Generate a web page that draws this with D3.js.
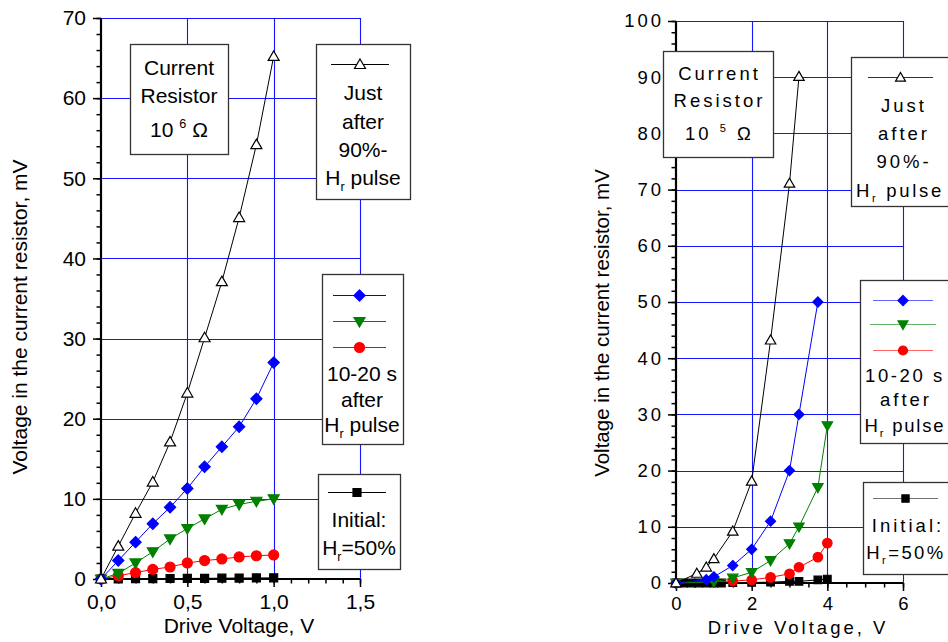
<!DOCTYPE html>
<html><head><meta charset="utf-8">
<script src="https://cdn.jsdelivr.net/npm/d3@7"></script>
<style>
body{margin:0;background:#fff;}
svg{display:block;font-family:"Liberation Sans", Arial, sans-serif;}
</style></head><body>
<svg id="c" width="948" height="642"></svg>
<script>
// ---------- Left panel (current resistor 10^6 Ω) ----------
const leftVoltage    = [0, 0.1, 0.2, 0.3, 0.4, 0.5, 0.6, 0.7, 0.8, 0.9, 1.0];
const leftJustAfter  = [0, 4.1, 8.2, 12.1, 17.1, 23.2, 30.1, 37.1, 45.1, 54.2, 65.2];
const leftBlue       = [0, 2.3, 4.6, 6.9, 8.95, 11.3, 14.0, 16.5, 19.0, 22.5, 27.0];
const leftGreen      = [0, 0.7, 2.0, 3.4, 5.0, 6.3, 7.5, 8.7, 9.3, 9.7, 10.0];
const leftRed        = [0, 0.4, 0.8, 1.2, 1.5, 2.0, 2.3, 2.5, 2.75, 2.9, 3.0];
const leftInitial    = [0, 0.02, 0.04, 0.05, 0.06, 0.07, 0.08, 0.1, 0.12, 0.13, 0.15];
const leftXTicks     = [0, 0.5, 1.0, 1.5];
const leftYTicks     = [0, 10, 20, 30, 40, 50, 60, 70];

// ---------- Right panel (current resistor 10^5 Ω) ----------
const rightJustX  = [0, 0.55, 0.8, 1.0, 1.5, 2.0, 2.5, 3.0, 3.25];
const rightJustY  = [0, 1.7, 2.8, 4.3, 9.2, 18.1, 43.2, 71.1, 90.1];
const rightBlueX  = [0, 0.8, 1.0, 1.5, 2.0, 2.5, 3.0, 3.25, 3.75];
const rightBlueY  = [0, 0.6, 1.1, 3.1, 6.0, 11.0, 20.0, 30.0, 50.0];
const rightGreenX = [0, 1.0, 1.5, 2.0, 2.5, 3.0, 3.25, 3.75, 4.0];
const rightGreenY = [0, 0.2, 0.9, 1.9, 4.0, 7.0, 10.0, 17.0, 28.0];
const rightRedX   = [0, 1.5, 2.0, 2.5, 3.0, 3.25, 3.75, 4.0];
const rightRedY   = [0, 0.35, 0.55, 1.0, 1.65, 2.8, 4.6, 7.1];
const rightInitX  = [0, 0.2, 0.4, 0.6, 0.8, 1.0, 1.2, 1.5, 2.0, 2.5, 3.0, 3.25, 3.75, 4.0];
const rightInitY  = [0, 0, 0, 0, 0, 0, 0, 0.05, 0.1, 0.15, 0.3, 0.3, 0.55, 0.7];
const rightXTicks = [0, 2, 4, 6];
const rightYTicks = [0, 10, 20, 30, 40, 50, 60, 70, 80, 90, 100];

const svg = d3.select("#c");
const GRID = "#1414ff";

const markerPath = {
  triUp:   s => `M0,${-5.5*s}L${5.5*s},${4*s}L${-5.5*s},${4*s}Z`,
  triDown: s => `M0,${5.5*s}L${5.5*s},${-4*s}L${-5.5*s},${-4*s}Z`,
  diamond: s => `M0,${-5.6*s}L${5.6*s},0L0,${5.6*s}L${-5.6*s},0Z`,
  square:  s => `M${-4*s},${-4*s}h${8*s}v${8*s}h${-8*s}Z`,
  circle:  s => `M${5*s},0A${5*s},${5*s} 0 1,1 ${-5*s},0A${5*s},${5*s} 0 1,1 ${5*s},0Z`
};

function drawPanel(cfg) {
  const g = svg.append("g");
  const {x, y} = cfg;
  const [xa, xb] = x.range(), [yb, ya] = y.range();
  g.selectAll(null).data(cfg.yTicks.filter(d => d > 0)).join("line")
    .attr("x1", xa).attr("x2", xb)
    .attr("y1", d => Math.round(y(d)) + 0.5).attr("y2", d => Math.round(y(d)) + 0.5)
    .attr("stroke", GRID).attr("stroke-width", 1.1);
  g.selectAll(null).data(cfg.xTicks.filter(d => d > 0)).join("line")
    .attr("y1", ya).attr("y2", yb)
    .attr("x1", d => Math.round(x(d)) + 0.5).attr("x2", d => Math.round(x(d)) + 0.5)
    .attr("stroke", GRID).attr("stroke-width", 1.1);
  return g;
}

function drawAxes(g, cfg) {
  const {x, y} = cfg;
  const [xa, xb] = x.range(), [yb, ya] = y.range();
  const txtStyle = sel => sel.selectAll("text")
      .attr("font-size", cfg.fs).attr("fill", "#000")
      .style("letter-spacing", cfg.ls + "px")
      .attr("font-family", "Liberation Sans, Arial, sans-serif");
  const xm = g.append("g").attr("transform", `translate(0,${yb})`)
    .call(d3.axisBottom(x).tickValues(cfg.xMinor).tickSize(4.5).tickFormat(""));
  const ym = g.append("g").attr("transform", `translate(${xa},0)`)
    .call(d3.axisLeft(y).tickValues(cfg.yMinor).tickSize(4.5).tickFormat(""));
  const xM = g.append("g").attr("transform", `translate(0,${yb})`)
    .call(d3.axisBottom(x).tickValues(cfg.xTicks).tickSize(8).tickPadding(cfg.xPad).tickFormat(cfg.xFmt));
  const yM = g.append("g").attr("transform", `translate(${xa},0)`)
    .call(d3.axisLeft(y).tickValues(cfg.yTicks).tickSize(8).tickPadding(cfg.yPad).tickFormat(d3.format("d")));
  [xm, ym, xM, yM].forEach(s => {
    s.select(".domain").remove();
    s.selectAll("line").attr("stroke", "#000").attr("stroke-width", 1.5);
    s.attr("font-size", null).attr("font-family", null);
  });
  txtStyle(xM); txtStyle(yM);
  if (cfg.ls) xM.selectAll("text").attr("dx", cfg.ls / 2);
  g.append("line").attr("x1", xa).attr("x2", xa).attr("y1", ya).attr("y2", yb + 1)
    .attr("stroke", "#000").attr("stroke-width", 2.2);
  g.append("line").attr("x1", xa - 1).attr("x2", xb).attr("y1", yb).attr("y2", yb)
    .attr("stroke", "#000").attr("stroke-width", 2.2);
}

function drawSeries(g, x, y, xs, ys, color, shape, fill, stroke, s) {
  const pts = xs.map((v, i) => [x(v), y(ys[i])]);
  g.append("path").attr("d", d3.line()(pts)).attr("fill", "none")
    .attr("stroke", color).attr("stroke-width", 1);
  g.selectAll(null).data(pts).join("path")
    .attr("transform", d => `translate(${d[0]},${d[1]})`)
    .attr("d", markerPath[shape](s))
    .attr("fill", fill).attr("stroke", stroke).attr("stroke-width", 1.2);
}

function box(g, x0, y0, x1, y1) {
  g.append("rect").attr("x", x0 + 0.5).attr("y", y0 + 0.5)
    .attr("width", x1 - x0).attr("height", y1 - y0)
    .attr("fill", "#fff").attr("stroke", "#333").attr("stroke-width", 1.3);
}

function rich(g, cx, base, parts, fs, ls) {
  const t = g.append("text").attr("x", cx).attr("y", base)
    .attr("text-anchor", "middle").attr("font-size", fs).attr("fill", "#000")
    .style("letter-spacing", ls + "px");
  let shift = 0;
  parts.forEach(([txt, kind]) => {
    const target = kind === "sup" ? -fs * 0.42 : kind === "sub" ? fs * 0.28 : 0;
    t.append("tspan").attr("dy", target - shift)
      .attr("font-size", kind ? fs * 0.6 : fs).text(txt);
    shift = target;
  });
  return t;
}

function legendLine(g, xa, xb, yy, color, shape, fill, stroke, s, op) {
  g.append("line").attr("x1", xa).attr("x2", xb).attr("y1", yy + 0.5).attr("y2", yy + 0.5)
    .attr("stroke", color).attr("stroke-width", 1).attr("opacity", op);
  g.append("path").attr("transform", `translate(${(xa + xb) / 2},${yy + 0.5})`)
    .attr("d", markerPath[shape](s)).attr("fill", fill).attr("stroke", stroke).attr("stroke-width", 1.2);
}

// ================= LEFT PANEL =================
{
  const x = d3.scaleLinear().domain([0, 1.5]).range([101, 360]);
  const y = d3.scaleLinear().domain([0, 70]).range([579, 18]);
  const cfg = {x, y, xTicks: leftXTicks, yTicks: leftYTicks,
    xMinor: d3.range(0, 1.501, 0.1), yMinor: d3.range(0, 70.1, 2),
    xFmt: d => d3.format(".1f")(d).replace(".", ","), fs: 21, ls: 0, xPad: 7, yPad: 7};
  const g = drawPanel(cfg);
  drawAxes(g, cfg);
  const FS = 21;
  box(g, 130, 44, 228, 154);
  rich(g, 179, 75, [["Current", ""]], FS, 0);
  rich(g, 179, 103, [["Resistor", ""]], FS, 0);
  rich(g, 179, 137, [["10 ", ""], ["6", "sup"], [" Ω", ""]], FS, 0);

  box(g, 316, 44, 410, 199);
  legendLine(g, 331, 389, 64, "#000", "triUp", "#fff", "#000", 1, 1);
  rich(g, 363, 100, [["Just", ""]], FS, 0);
  rich(g, 363, 129, [["after", ""]], FS, 0);
  rich(g, 363, 157, [["90%-", ""]], FS, 0);
  rich(g, 363, 185, [["H", ""], ["r", "sub"], [" pulse", ""]], FS, 0);

  box(g, 322, 274, 403, 444);
  legendLine(g, 333, 386, 295, "#0000ff", "diamond", "#0000ff", "#0000ff", 1, 1);
  legendLine(g, 333, 386, 321, "#008000", "triDown", "#008000", "#008000", 1, 1);
  legendLine(g, 333, 386, 347, "#ff0000", "circle", "#ff0000", "#ff0000", 1, 1);
  rich(g, 362, 381, [["10-20 s", ""]], FS, 0);
  rich(g, 362, 407, [["after", ""]], FS, 0);
  rich(g, 362, 432, [["H", ""], ["r", "sub"], [" pulse", ""]], FS, 0);

  box(g, 318, 474, 400, 569);
  legendLine(g, 328, 386, 492, "#000", "square", "#000", "#000", 1, 1);
  rich(g, 359, 527, [["Initial:", ""]], FS, 0);
  rich(g, 359, 555, [["H", ""], ["r", "sub"], ["=50%", ""]], FS, 0);

  drawSeries(g, x, y, leftVoltage, leftInitial, "#000", "square", "#000", "#000", 1);
  drawSeries(g, x, y, leftVoltage, leftRed, "#ff0000", "circle", "#ff0000", "#ff0000", 1);
  drawSeries(g, x, y, leftVoltage, leftGreen, "#008000", "triDown", "#008000", "#008000", 1);
  drawSeries(g, x, y, leftVoltage, leftBlue, "#0000ff", "diamond", "#0000ff", "#0000ff", 1);
  drawSeries(g, x, y, leftVoltage, leftJustAfter, "#000", "triUp", "#fff", "#000", 1);

  g.append("text").attr("x", 239).attr("y", 633).attr("text-anchor", "middle")
    .attr("font-size", 21).text("Drive Voltage, V");
  g.append("text").attr("transform", "translate(26.5,317) rotate(-90)").attr("text-anchor", "middle")
    .attr("font-size", 21).text("Voltage in the current resistor, mV");
}

// ================= RIGHT PANEL =================
{
  const x = d3.scaleLinear().domain([0, 6]).range([676, 903]);
  const y = d3.scaleLinear().domain([0, 100]).range([583, 21]);
  const cfg = {x, y, xTicks: rightXTicks, yTicks: rightYTicks,
    xMinor: d3.range(0, 6.01, 0.5), yMinor: d3.range(0, 100.1, 2),
    xFmt: d3.format("d"), fs: 18.5, ls: 3, xPad: 6, yPad: 4};
  const g = drawPanel(cfg);
  drawAxes(g, cfg);
  const FS = 18.5, LS = 3;
  box(g, 663, 51, 773, 157);
  rich(g, 719.5, 80, [["Current", ""]], FS, LS);
  rich(g, 719.5, 107, [["Resistor", ""]], FS, LS);
  rich(g, 719.5, 140, [["10 ", ""], ["5", "sup"], [" Ω", ""]], FS, LS);

  box(g, 851, 57, 956, 206);
  legendLine(g, 868, 933, 77, "#000", "triUp", "#fff", "#000", 0.9, 0.8);
  rich(g, 904, 112, [["Just", ""]], FS, LS);
  rich(g, 904, 140, [["after", ""]], FS, LS);
  rich(g, 904, 168, [["90%-", ""]], FS, LS);
  rich(g, 900, 197, [["H", ""], ["r", "sub"], [" pulse", ""]], FS, 2.7);

  box(g, 860, 280, 956, 443);
  legendLine(g, 873, 933, 300, "#0000ff", "diamond", "#0000ff", "#0000ff", 0.9, 0.6);
  legendLine(g, 870, 936, 324, "#008000", "triDown", "#008000", "#008000", 0.9, 0.6);
  legendLine(g, 873, 933, 350, "#ff0000", "circle", "#ff0000", "#ff0000", 0.9, 0.6);
  rich(g, 905, 382, [["10-20 s", ""]], FS, 2.6);
  rich(g, 906, 406, [["after", ""]], FS, LS);
  rich(g, 905, 432, [["H", ""], ["r", "sub"], [" pulse", ""]], FS, 1.8);

  box(g, 863, 482, 956, 574);
  legendLine(g, 873, 938, 498, "#000", "square", "#000", "#000", 0.9, 0.55);
  rich(g, 908, 532, [["Initial:", ""]], FS, LS);
  rich(g, 906, 559, [["H", ""], ["r", "sub"], ["=50%", ""]], FS, 2.4);

  drawSeries(g, x, y, rightInitX, rightInitY, "#000", "square", "#000", "#000", 0.95);
  drawSeries(g, x, y, rightRedX, rightRedY, "#ff0000", "circle", "#ff0000", "#ff0000", 0.95);
  drawSeries(g, x, y, rightGreenX, rightGreenY, "#008000", "triDown", "#008000", "#008000", 0.95);
  drawSeries(g, x, y, rightBlueX, rightBlueY, "#0000ff", "diamond", "#0000ff", "#0000ff", 0.9);
  drawSeries(g, x, y, rightJustX, rightJustY, "#000", "triUp", "#fff", "#000", 0.95);

  g.append("text").attr("x", 798).attr("y", 634).attr("text-anchor", "middle")
    .attr("font-size", 18.5).style("letter-spacing", "3px").text("Drive Voltage, V");
  g.append("text").attr("transform", "translate(609,323) rotate(-90)").attr("text-anchor", "middle")
    .attr("font-size", 20.5).text("Voltage in the current resistor, mV");
}
</script>
</body></html>
